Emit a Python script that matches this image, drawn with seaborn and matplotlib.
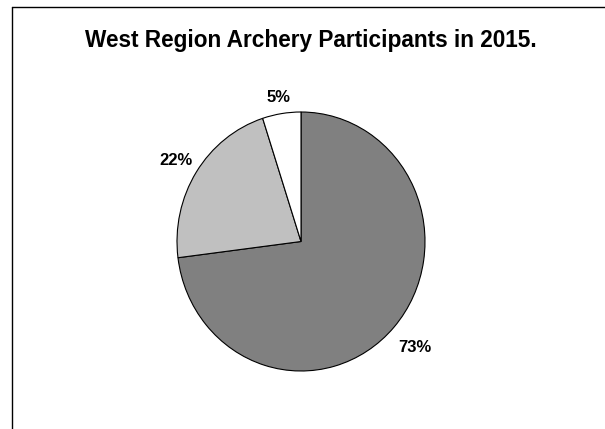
import matplotlib
matplotlib.use("Agg")
import matplotlib.pyplot as plt
from matplotlib.lines import Line2D
import numpy as np
import seaborn as sns

# Participant shares by group (percent), drawn clockwise from 12 o'clock
shares = [73, 22, 5]
share_labels = ["73%", "22%", "5%"]
slice_colors = ["#808080", "#c0c0c0", "#ffffff"]
title_text = "West Region Archery Participants in 2015."

sns.set_theme(style="white")
plt.rcParams["font.family"] = ["Liberation Sans", "DejaVu Sans"]

W, H, DPI = 605, 429, 100
fig = plt.figure(figsize=(W / DPI, H / DPI), dpi=DPI)
fig.patch.set_facecolor("white")

# Plot-area frame: top and left edges only
frame_kw = dict(color="black", linewidth=1.0, transform=fig.transFigure)
fig.add_artist(Line2D([12 / W, 1.0], [1 - 7 / H, 1 - 7 / H], **frame_kw))
fig.add_artist(Line2D([12 / W, 12 / W], [1 - 7 / H, 0.0], **frame_kw))

fig.text(310.8 / W, 1 - 46.7 / H, title_text, ha="center", va="baseline",
         fontsize=16.3, fontweight="bold", color="black")

# Pie axes (slightly taller than wide, as in the original rendering)
left, right, top, bottom = 177, 425, 112, 371
ax = fig.add_axes([left / W, 1 - bottom / H, (right - left) / W, (bottom - top) / H])
wedges, _ = ax.pie(shares, colors=slice_colors, startangle=90, counterclock=False,
                   radius=1.0,
                   wedgeprops=dict(edgecolor="black", linewidth=0.8))
ax.set_aspect("auto")
ax.set_xlim(-1, 1)
ax.set_ylim(-1, 1)
ax.axis("off")

# Percentage labels just outside each slice, at its mid angle
label_dist = [1.22, 1.19, 1.14]
for w, txt, d in zip(wedges, share_labels, label_dist):
    mid = np.deg2rad((w.theta1 + w.theta2) / 2)
    ax.text(d * np.cos(mid), d * np.sin(mid), txt, ha="center",
            va="center_baseline", fontsize=12, fontweight="bold",
            color="black", clip_on=False)

fig.savefig("out.png", dpi=DPI, facecolor="white")
